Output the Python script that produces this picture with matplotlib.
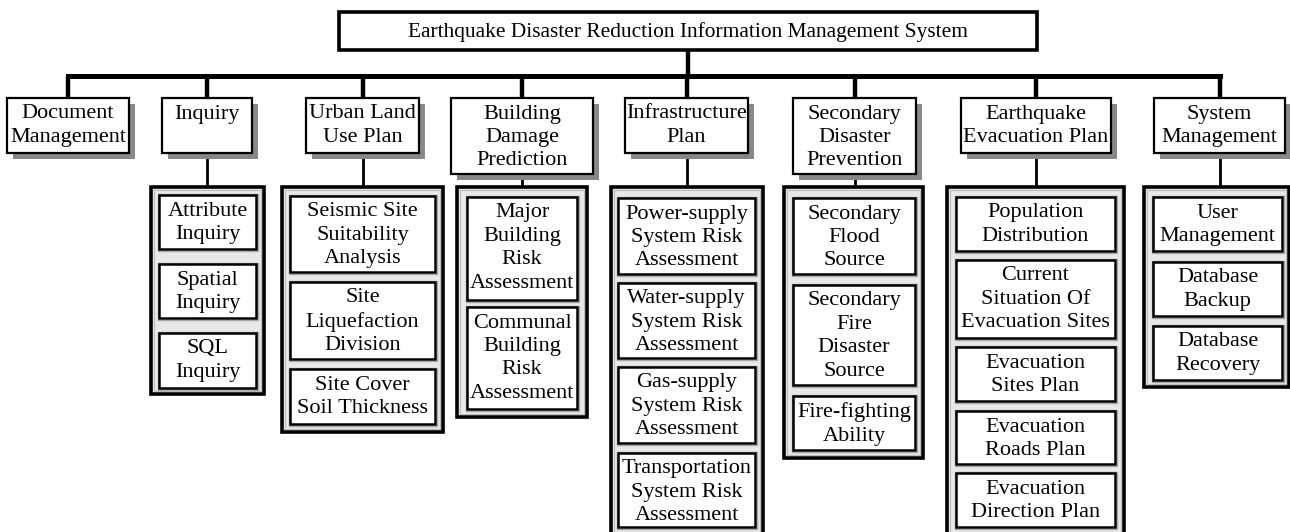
import matplotlib
matplotlib.use("Agg")
import matplotlib.pyplot as plt
from matplotlib.patches import Rectangle

# ---------------- data ----------------
root_label = "Earthquake Disaster Reduction Information Management System"

module_labels = [
    "Document\nManagement",
    "Inquiry",
    "Urban Land\nUse Plan",
    "Building\nDamage\nPrediction",
    "Infrastructure\nPlan",
    "Secondary\nDisaster\nPrevention",
    "Earthquake\nEvacuation Plan",
    "System\nManagement",
]

sub_inquiry = ["Attribute\nInquiry", "Spatial\nInquiry", "SQL\nInquiry"]
sub_urban = ["Seismic Site\nSuitability\nAnalysis", "Site\nLiquefaction\nDivision",
             "Site Cover\nSoil Thickness"]
sub_building = ["Major\nBuilding\nRisk\nAssessment", "Communal\nBuilding\nRisk\nAssessment"]
sub_infra = ["Power-supply\nSystem Risk\nAssessment", "Water-supply\nSystem Risk\nAssessment",
             "Gas-supply\nSystem Risk\nAssessment", "Transportation\nSystem Risk\nAssessment"]
sub_secondary = ["Secondary\nFlood\nSource", "Secondary\nFire\nDisaster\nSource",
                 "Fire-fighting\nAbility"]
sub_evac = ["Population\nDistribution", "Current\nSituation Of\nEvacuation Sites",
            "Evacuation\nSites Plan", "Evacuation\nRoads Plan", "Evacuation\nDirection Plan"]
sub_system = ["User\nManagement", "Database\nBackup", "Database\nRecovery"]

children = [None, sub_inquiry, sub_urban, sub_building, sub_infra, sub_secondary,
            sub_evac, sub_system]

# ---------------- layout (pixels) ----------------
W, H = 1290, 532
root_box = (339, 1037, 12, 50)
bar_y = 76
mod_x = [(7, 129), (162, 252), (306, 419), (451, 593), (625, 748), (793, 916),
         (961, 1111), (1154, 1285)]
mod_y0 = 98
mod_y1 = [153, 153, 153, 174, 153, 174, 153, 153]
grp_y0 = 187
grp_x = [None, (151, 264), (282, 443), (457, 587), (611, 763), (784, 923),
         (947, 1124), (1144, 1289)]
grp_y1 = [None, 394, 432, 417, 545, 458, 545, 387]
inner_x = [None, (159, 256), (290, 435), (467, 577), (618, 755), (793, 915),
           (956, 1115), (1153, 1282)]
inner_y = [None,
           [(195, 249), (264, 318), (333, 388)],
           [(196, 272), (282, 359), (369, 424)],
           [(197, 300), (307, 409)],
           [(198, 274), (283, 358), (367, 443), (453, 527)],
           [(198, 274), (285, 385), (396, 450)],
           [(197, 251), (260, 338), (347, 401), (411, 464), (473, 527)],
           [(197, 251), (262, 316), (326, 380)]]

FONT = "Liberation Serif"
FS = 16.0
LS = 1.31
TOP_PAD = 6.5

fig = plt.figure(figsize=(W / 100, H / 100), dpi=100)
ax = fig.add_axes([0, 0, 1, 1])
ax.set_xlim(0, W)
ax.set_ylim(H, 0)
ax.axis("off")


def box(x0, x1, y0, y1, lw, fc="white", ec="black", z=3, shadow=False):
    if shadow:
        ax.add_patch(Rectangle((x0 + 6, y0 + 6), x1 - x0, y1 - y0, fc="#888888",
                               ec="none", zorder=z - 1))
    ax.add_patch(Rectangle((x0, y0), x1 - x0, y1 - y0, fc=fc, ec=ec, lw=lw,
                           zorder=z, joinstyle="miter"))


def label(x0, x1, y0, text, fs=FS):
    ax.text((x0 + x1) / 2, y0 + TOP_PAD, text, ha="center", va="top", fontsize=fs,
            family=FONT, linespacing=LS, zorder=10)


# root
rx0, rx1, ry0, ry1 = root_box
box(rx0, rx1, ry0, ry1, lw=2.6)
ax.text((rx0 + rx1) / 2, (ry0 + ry1) / 2 + 1, root_label, ha="center", va="center",
        fontsize=15.4, family=FONT, zorder=10)
ax.plot([(rx0 + rx1) / 2] * 2, [ry1, bar_y], color="black", lw=3.2, zorder=1,
        solid_capstyle="butt")
centers = [(a + b) / 2 for a, b in mod_x]
ax.plot([centers[0], centers[-1]], [bar_y, bar_y], color="black", lw=3.6, zorder=1,
        solid_capstyle="projecting")

for i, lab in enumerate(module_labels):
    x0, x1 = mod_x[i]
    cx = centers[i]
    ax.plot([cx, cx], [bar_y, mod_y0], color="black", lw=3.2, zorder=1,
            solid_capstyle="butt")
    box(x0, x1, mod_y0, mod_y1[i], lw=1.6, shadow=True)
    label(x0, x1, mod_y0, lab)
    subs = children[i]
    if subs is None:
        continue
    ax.plot([cx, cx], [mod_y1[i], grp_y0], color="black", lw=2.0, zorder=1,
            solid_capstyle="butt")
    gx0, gx1 = grp_x[i]
    box(gx0, gx1, grp_y0, grp_y1[i], lw=2.6, fc="#e8e8e8", z=3)
    ax.add_patch(Rectangle((gx0 + 3, grp_y0 + 3), gx1 - gx0 - 6, grp_y1[i] - grp_y0 - 6,
                           fc="none", ec="#bdbdbd", lw=0.8, zorder=3.5))
    ix0, ix1 = inner_x[i]
    for (iy0, iy1), s in zip(inner_y[i], subs):
        ax.add_patch(Rectangle((ix0 - 1.5, iy0 - 1.5), ix1 - ix0 + 3, iy1 - iy0 + 3,
                               fc="none", ec="#a8a8a8", lw=1.0, zorder=4))
        box(ix0, ix1, iy0, iy1, lw=1.8, z=5)
        label(ix0, ix1, iy0, s)

fig.savefig("out.png", dpi=100)
